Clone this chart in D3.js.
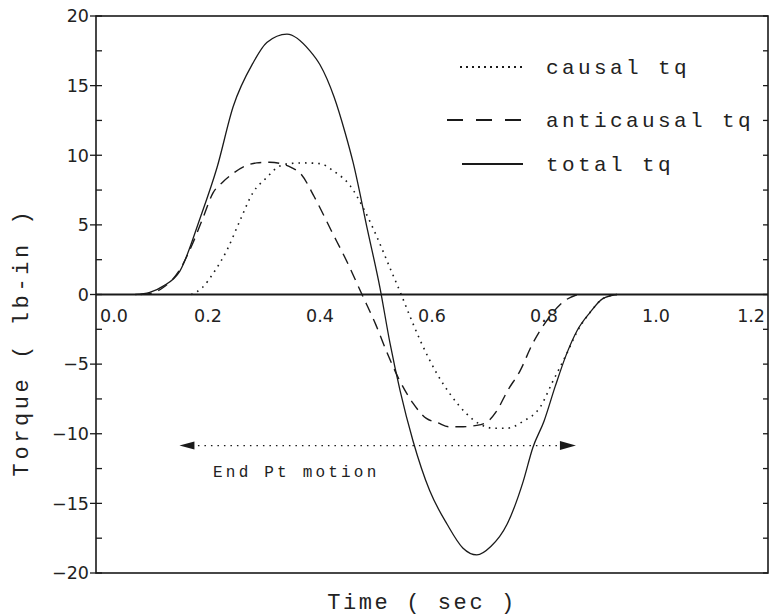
<!DOCTYPE html>
<html>
<head>
<meta charset="utf-8">
<script src="https://cdn.jsdelivr.net/npm/d3@7"></script>
<style>
  body { margin: 0; background: #fff; }
  svg { display: block; }
  .tick-label { font-family: "DejaVu Sans", "Liberation Sans", sans-serif; font-size: 17.5px; fill: #222; }
  .mono { font-family: "Liberation Mono", "DejaVu Sans Mono", monospace; fill: #222; }
</style>
</head>
<body>
<svg id="chart" width="779" height="615"></svg>
<script>
const svg = d3.select("#chart");

// causal torque (dotted)
const causalTime = [0.17, 0.19, 0.209, 0.234, 0.257, 0.28, 0.305, 0.323, 0.345, 0.37, 0.40, 0.423, 0.454, 0.48, 0.502, 0.525, 0.545, 0.56, 0.579, 0.609, 0.635, 0.66, 0.685, 0.71, 0.734, 0.763, 0.793, 0.815, 0.84, 0.86, 0.882, 0.905, 0.93];
const causalTq = [0, 0.5, 1.5, 3.2, 5.3, 7.3, 8.4, 9.1, 9.4, 9.45, 9.4, 8.9, 7.8, 6.0, 4.1, 1.9, 0, -1.5, -3.3, -5.7, -7.3, -8.5, -9.3, -9.6, -9.6, -9.1, -8.1, -6.3, -4.3, -2.6, -1.3, -0.3, 0];

// anticausal torque (dashed)
const antiTime = [0.08, 0.10, 0.12, 0.15, 0.173, 0.19, 0.209, 0.227, 0.245, 0.265, 0.287, 0.31, 0.33, 0.35, 0.365, 0.39, 0.42, 0.45, 0.475, 0.50, 0.52, 0.54, 0.566, 0.59, 0.61, 0.63, 0.65, 0.68, 0.70, 0.715, 0.735, 0.757, 0.78, 0.81, 0.832, 0.86];
const antiTq = [0, 0.1, 0.5, 1.8, 3.7, 5.4, 7.3, 8.1, 8.7, 9.2, 9.45, 9.5, 9.4, 9.1, 8.7, 7.0, 4.6, 2.2, 0, -2.2, -4.2, -6.0, -7.8, -8.9, -9.2, -9.5, -9.5, -9.4, -9.1, -8.4, -6.9, -5.5, -3.5, -1.6, -0.6, 0];

// total torque (solid)
const totalTime = [0.07, 0.096, 0.12, 0.15, 0.186, 0.216, 0.245, 0.28, 0.305, 0.341, 0.382, 0.40, 0.425, 0.445, 0.459, 0.485, 0.507, 0.525, 0.543, 0.566, 0.596, 0.627, 0.655, 0.68, 0.705, 0.734, 0.763, 0.78, 0.80, 0.82, 0.84, 0.859, 0.882, 0.905, 0.93];
const totalTq = [0, 0.15, 0.6, 1.7, 5.5, 9.1, 13.5, 16.6, 18.1, 18.7, 17.5, 16.5, 14.2, 11.6, 9.5, 4.6, 0.5, -3.5, -6.9, -10.5, -14.1, -16.5, -18.2, -18.7, -18.1, -16.5, -13.4, -11.0, -9.1, -6.6, -4.3, -2.6, -1.3, -0.3, 0];

const xTicks = [0, 0.2, 0.4, 0.6, 0.8, 1.0, 1.2];
const yTicks = [-20, -15, -10, -5, 0, 5, 10, 15, 20];
const yMinorTicks = d3.range(-20, 20.01, 2.5);

const legendLabels = ["causal tq", "anticausal tq", "total tq"];
const arrowTime = [0.149, 0.857];
const arrowTq = -10.85;

const x = d3.scaleLinear().domain([0, 1.2]).range([96, 768]);
const y = d3.scaleLinear().domain([-20, 20]).range([573, 16]);

const ink = "#1a1a1a";

// frame
svg.append("rect")
  .attr("x", x(0)).attr("y", y(20))
  .attr("width", x(1.2) - x(0)).attr("height", y(-20) - y(20))
  .attr("fill", "none").attr("stroke", ink).attr("stroke-width", 1.6);

// zero line
svg.append("line")
  .attr("x1", x(0)).attr("x2", x(1.2))
  .attr("y1", y(0)).attr("y2", y(0))
  .attr("stroke", ink).attr("stroke-width", 2.2);

// left axis ticks (major ones cross the axis)
svg.selectAll(".ltick").data(yMinorTicks).join("line")
  .attr("x1", d => x(0) - (d % 5 === 0 ? 6 : 0))
  .attr("x2", x(0) + 6)
  .attr("y1", d => y(d)).attr("y2", d => y(d))
  .attr("stroke", ink).attr("stroke-width", 1.3);

// right axis ticks
svg.selectAll(".rtick").data(yMinorTicks).join("line")
  .attr("x1", x(1.2) - 5).attr("x2", x(1.2))
  .attr("y1", d => y(d)).attr("y2", d => y(d))
  .attr("stroke", ink).attr("stroke-width", 1.3);

// y tick labels
svg.selectAll(".ylab").data(yTicks).join("text")
  .attr("class", "tick-label")
  .attr("x", x(0) - 7)
  .attr("y", d => y(d))
  .attr("dy", "0.36em")
  .attr("text-anchor", "end")
  .text(d => d < 0 ? "\u2212" + Math.abs(d) : String(d));

// x tick labels, inside the box under the zero line (end ones nudged inward)
svg.selectAll(".xlab").data(xTicks).join("text")
  .attr("class", "tick-label")
  .attr("x", d => d === 0 ? x(d) + 4 : d === 1.2 ? x(d) - 3 : x(d))
  .attr("y", y(0) + 27)
  .attr("text-anchor", d => d === 0 ? "start" : d === 1.2 ? "end" : "middle")
  .text(d => d3.format(".1f")(d));

// curves
const line = d3.line().x(d => x(d[0])).y(d => y(d[1])).curve(d3.curveMonotoneX);

svg.append("path")
  .datum(d3.zip(totalTime, totalTq))
  .attr("d", line)
  .attr("fill", "none").attr("stroke", ink).attr("stroke-width", 1.3);

svg.append("path")
  .datum(d3.zip(antiTime, antiTq))
  .attr("d", line)
  .attr("fill", "none").attr("stroke", ink).attr("stroke-width", 1.4)
  .attr("stroke-dasharray", "11,7");

svg.append("path")
  .datum(d3.zip(causalTime, causalTq))
  .attr("d", line)
  .attr("fill", "none").attr("stroke", ink).attr("stroke-width", 1.6)
  .attr("stroke-dasharray", "1.6,5");

// legend
const legendY = [67, 120, 164];
const legendStyles = [
  { x1: 460, dash: "2,4", w: 1.8 },
  { x1: 447, dash: "16,13", w: 2 },
  { x1: 462, dash: null, w: 2.2 }
];
legendLabels.forEach((lab, i) => {
  const st = legendStyles[i];
  svg.append("line")
    .attr("x1", st.x1).attr("x2", 523)
    .attr("y1", legendY[i]).attr("y2", legendY[i])
    .attr("stroke", ink).attr("stroke-width", st.w)
    .attr("stroke-dasharray", st.dash);
  svg.append("text")
    .attr("class", "mono")
    .attr("x", 546).attr("y", legendY[i])
    .attr("dy", "0.32em")
    .style("font-size", "21px")
    .style("letter-spacing", "3.4px")
    .text(lab);
});

// End Pt motion arrow
const ax0 = x(arrowTime[0]), ax1 = x(arrowTime[1]), ay = y(arrowTq);
svg.append("line")
  .attr("x1", ax0 + 12).attr("x2", ax1 - 14)
  .attr("y1", ay).attr("y2", ay)
  .attr("stroke", ink).attr("stroke-width", 1.2)
  .attr("stroke-dasharray", "1.5,5");
svg.append("path")
  .attr("d", `M${ax0},${ay} L${ax0 + 15},${ay - 4} L${ax0 + 15},${ay + 4} Z`)
  .attr("fill", ink);
svg.append("path")
  .attr("d", `M${ax1},${ay} L${ax1 - 16},${ay - 4.5} L${ax1 - 16},${ay + 4.5} Z`)
  .attr("fill", ink);
svg.append("text")
  .attr("class", "mono")
  .attr("x", x(0.209)).attr("y", y(-12.7))
  .attr("dy", "0.35em")
  .style("font-size", "16px")
  .style("letter-spacing", "3.2px")
  .text("End Pt motion");

// axis titles
svg.append("text")
  .attr("class", "mono")
  .attr("x", 422).attr("y", 609)
  .attr("text-anchor", "middle")
  .style("font-size", "22px")
  .style("letter-spacing", "2.6px")
  .text("Time ( sec )");

svg.append("text")
  .attr("class", "mono")
  .attr("transform", "translate(28,342) rotate(-90)")
  .attr("text-anchor", "middle")
  .style("font-size", "22px")
  .style("letter-spacing", "3.6px")
  .text("Torque ( lb-in )");
</script>
</body>
</html>
